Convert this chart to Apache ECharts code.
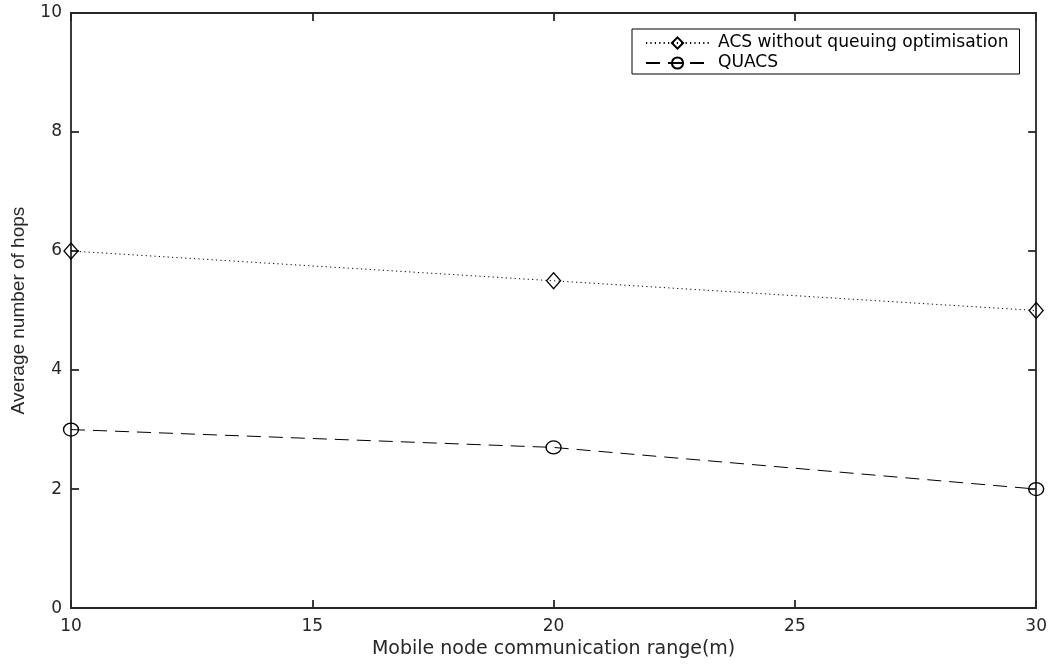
<!DOCTYPE html>
<html>
<head>
<meta charset="utf-8">
<script src="https://cdn.jsdelivr.net/npm/echarts@6/dist/echarts.min.js"></script>
<style>html,body{margin:0;padding:0;background:#fff;}#c{width:1050px;height:664px;}</style>
</head>
<body>
<div id="c"></div>
<script>
const ranges = [10, 20, 30];
const acsHops = [6, 5.5, 5];
const quacsHops = [3, 2.7, 2];
const seriesNames = ['ACS without queuing optimisation', 'QUACS'];
const xTitle = 'Mobile node communication range(m)';
const yTitle = 'Average number of hops';

const font = 'DejaVu Sans, Liberation Sans, Arial, sans-serif';
const frame = '#262626';
const chart = echarts.init(document.getElementById('c'), null, {renderer: 'canvas'});

const axisBase = {
  axisLine: {show: true, onZero: false, lineStyle: {color: frame, width: 1.8}},
  axisTick: {show: true, inside: true, length: 8, lineStyle: {color: frame, width: 1.8}},
  splitLine: {show: false}
};

chart.setOption({
  animation: false,
  backgroundColor: '#fff',
  grid: {left: 71, right: 11, top: 13, bottom: 53, containLabel: false},
  legend: {
    data: seriesNames,
    orient: 'vertical',
    left: 632, top: 29,
    padding: [5, 11, 2, 13],
    itemGap: 2,
    itemWidth: 63, itemHeight: 14,
    borderColor: '#000', borderWidth: 1,
    borderRadius: 0,
    backgroundColor: '#fff',
    textStyle: {fontFamily: font, fontSize: 17.1, lineHeight: 18, color: '#000', padding: [0, 0, 0, 4]}
  },
  xAxis: [
    Object.assign({}, axisBase, {
      type: 'value', min: 10, max: 30, interval: 5, position: 'bottom',
      name: xTitle, nameLocation: 'middle', nameGap: 30,
      nameTextStyle: {fontFamily: font, fontSize: 19, color: '#262626'},
      axisLabel: {fontFamily: font, fontSize: 17, color: '#262626', margin: 10}
    }),
    Object.assign({}, axisBase, {
      type: 'value', min: 10, max: 30, interval: 5, position: 'top',
      axisLabel: {show: false}
    })
  ],
  yAxis: [
    Object.assign({}, axisBase, {
      type: 'value', min: 0, max: 10, interval: 2, position: 'left',
      name: yTitle, nameLocation: 'middle', nameGap: 43, nameRotate: 90,
      nameTextStyle: {fontFamily: 'Liberation Sans, Arial, sans-serif', fontSize: 19, color: '#262626'},
      axisLabel: {fontFamily: font, fontSize: 17, color: '#262626', margin: 9}
    }),
    Object.assign({}, axisBase, {
      type: 'value', min: 0, max: 10, interval: 2, position: 'right',
      axisLabel: {show: false}
    })
  ],
  series: [
    {
      name: seriesNames[0], type: 'line',
      data: ranges.map((x, i) => [x, acsHops[i]]),
      symbol: 'diamond', symbolSize: [14, 16],
      lineStyle: {color: '#000', width: 1, type: [1.2, 3.2]},
      itemStyle: {color: 'rgba(0,0,0,0)', borderColor: '#000', borderWidth: 1.3}
    },
    {
      name: seriesNames[1], type: 'line',
      data: ranges.map((x, i) => [x, quacsHops[i]]),
      symbol: 'circle', symbolSize: [15, 13],
      lineStyle: {color: '#000', width: 1, type: [14, 8]},
      itemStyle: {color: 'rgba(0,0,0,0)', borderColor: '#000', borderWidth: 1.3}
    }
  ]
});
</script>
</body>
</html>
